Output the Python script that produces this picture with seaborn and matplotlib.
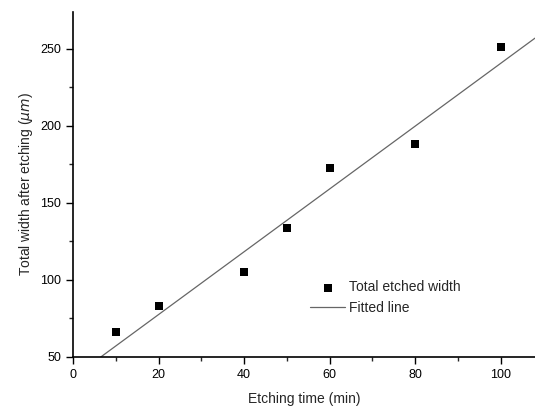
import matplotlib
matplotlib.use("Agg")
import matplotlib.pyplot as plt
import numpy as np
import pandas as pd
import seaborn as sns
from matplotlib.ticker import MultipleLocator

# measured points
etch_time = [10, 20, 40, 50, 60, 80, 100]
total_width = [66, 83, 105, 134, 173, 188, 251]

# fitted line endpoints
fit_time = [6.5, 108]
fit_width = [50, 257]

sns.set_theme(style="white")
plt.rcParams["font.family"] = ["Liberation Sans", "DejaVu Sans"]

df = pd.DataFrame({"time": etch_time, "width": total_width})
fit = pd.DataFrame({"time": fit_time, "width": fit_width})

fig = plt.figure(figsize=(5.35, 4.11), dpi=100)
ax = fig.add_axes([0.1364, 0.1314, 0.8636, 0.8395])

sns.lineplot(data=fit, x="time", y="width", ax=ax, color="#666666", linewidth=0.9,
             label="Fitted line")
sns.scatterplot(data=df, x="time", y="width", ax=ax, marker="s", color="black",
                s=28, edgecolor="black", linewidth=0, label="Total etched width")

ax.set_xlim(0, 108)
ax.set_ylim(50, 274)
ax.xaxis.set_major_locator(MultipleLocator(20))
ax.xaxis.set_minor_locator(MultipleLocator(10))
ax.yaxis.set_major_locator(MultipleLocator(50))
ax.yaxis.set_minor_locator(MultipleLocator(25))
ax.tick_params(which="major", direction="out", length=5, width=1, labelsize=9,
               bottom=True, left=True, colors="black")
ax.tick_params(which="minor", direction="out", length=3, width=1,
               bottom=True, left=True)

sns.despine(ax=ax)
for sp in ("left", "bottom"):
    ax.spines[sp].set_color("black")
    ax.spines[sp].set_linewidth(1.2)

ax.set_xlabel("Etching time (min)", fontsize=10, labelpad=8)
ax.set_ylabel(r"Total width after etching ($\mu m$)", fontsize=10, labelpad=4)

handles, labels = ax.get_legend_handles_labels()
order = [labels.index("Total etched width"), labels.index("Fitted line")]
ax.legend([handles[i] for i in order], [labels[i] for i in order],
          loc="lower left", bbox_to_anchor=(0.487, 0.085), frameon=False,
          fontsize=10, handlelength=2.5, handletextpad=0.3, labelspacing=0.5)

fig.savefig("out.png", dpi=100)
